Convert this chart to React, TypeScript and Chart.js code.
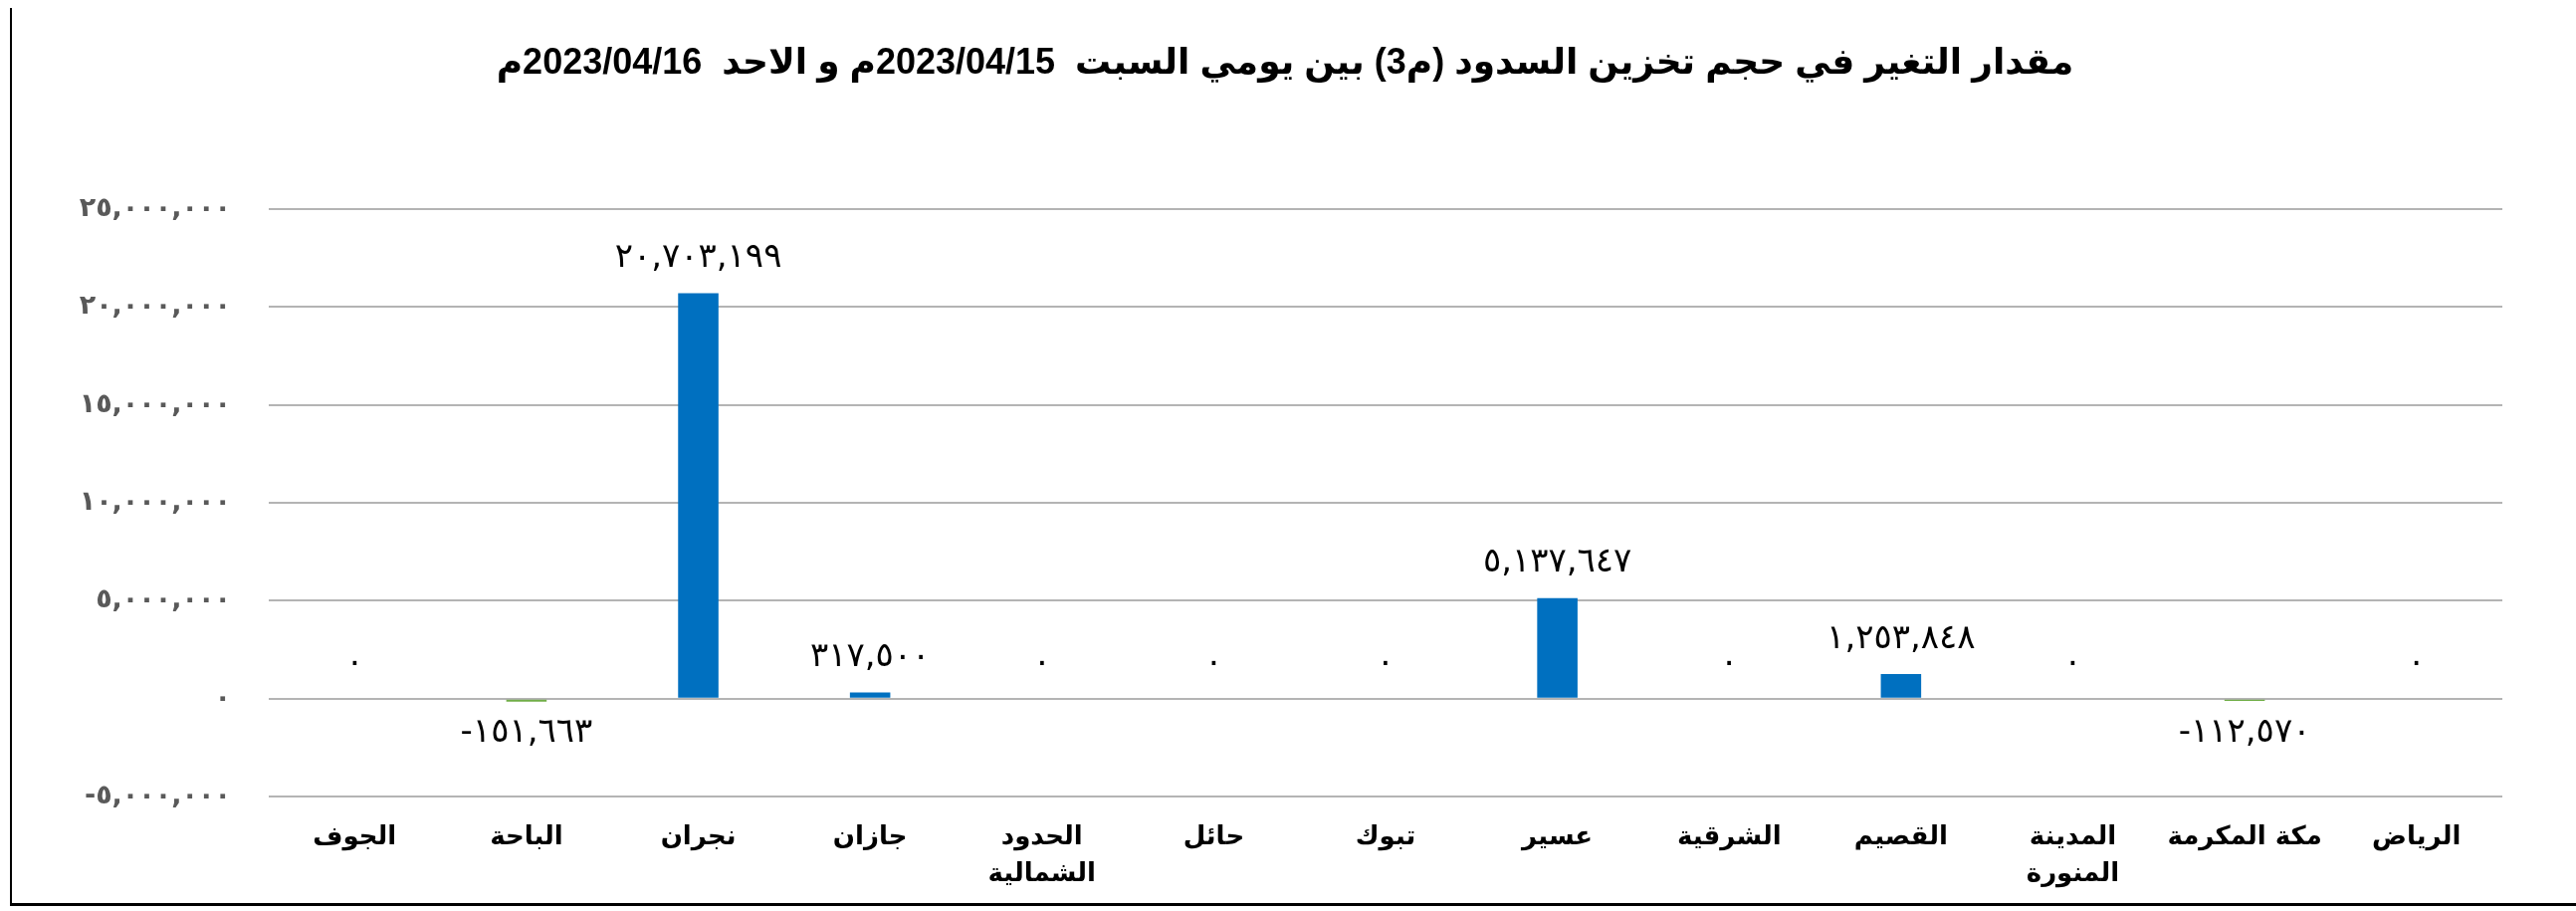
import React, { useEffect, useRef } from 'react';
import { Chart, registerables } from 'chart.js';

Chart.register(...registerables);

// ---- Data (categories listed in Arabic reading order; axis is reversed so الرياض is on the right)
const categories: (string | string[])[] = [
  'الرياض',
  'مكة المكرمة',
  ['المدينة', 'المنورة'],
  'القصيم',
  'الشرقية',
  'عسير',
  'تبوك',
  'حائل',
  ['الحدود', 'الشمالية'],
  'جازان',
  'نجران',
  'الباحة',
  'الجوف',
];

const changeValues: number[] = [
  0, -112570, 0, 1253848, 0, 5137647, 0, 0, 0, 317500, 20703199, -151663, 0,
];

const yTickValues: number[] = [-5000000, 0, 5000000, 10000000, 15000000, 20000000, 25000000];

const titleText =
  'مقدار التغير في حجم تخزين السدود (م3) بين يومي السبت  2023/04/15م و الاحد  2023/04/16م';

const positiveColor = '#0070C0';
const negativeColor = '#70AD47';

const AR_DIGITS = ['٠', '١', '٢', '٣', '٤', '٥', '٦', '٧', '٨', '٩'];
function toArabicDigits(v: number): string {
  return v
    .toLocaleString('en-US')
    .replace(/[0-9]/g, (d) => AR_DIGITS[Number(d)]);
}

const dataLabelPlugin = {
  id: 'barValueLabels',
  afterDatasetsDraw(chart: any) {
    const ctx = chart.ctx;
    const meta = chart.getDatasetMeta(0);
    const data = chart.data.datasets[0].data as number[];
    ctx.save();
    ctx.font = '34px "DejaVu Sans", sans-serif';
    ctx.fillStyle = '#000000';
    ctx.textAlign = 'center';
    ctx.textBaseline = 'middle';
    meta.data.forEach((el: any, i: number) => {
      const v = data[i];
      const y = v < 0 ? el.y + 32 : el.y - 35;
      ctx.fillText(toArabicDigits(v), el.x, y);
    });
    ctx.restore();
  },
};

export default function App() {
  const canvasRef = useRef<HTMLCanvasElement | null>(null);

  useEffect(() => {
    if (!canvasRef.current) return;
    const chart = new Chart(canvasRef.current, {
      type: 'bar',
      data: {
        labels: categories,
        datasets: [
          {
            data: changeValues,
            backgroundColor: changeValues.map((v) => (v < 0 ? negativeColor : positiveColor)),
            borderWidth: 0,
            barPercentage: 0.235,
            categoryPercentage: 1,
          },
        ],
      },
      options: {
        responsive: false,
        animation: false,
        devicePixelRatio: 1,
        layout: { padding: { left: 0, right: 18, top: 0, bottom: 0 } },
        plugins: {
          legend: { display: false },
          tooltip: { enabled: false },
          title: {
            display: true,
            text: '\u202B' + titleText + '\u202C',
            color: '#000000',
            font: { family: '"Liberation Sans", "DejaVu Sans", Arial, sans-serif', size: 36, weight: 'bold' },
            padding: { top: 34, bottom: 124.8 },
          },
        },
        scales: {
          x: {
            reverse: true,
            grid: { display: false, drawTicks: false },
            border: { display: false },
            ticks: {
              color: '#000000',
              padding: 22,
              maxRotation: 0,
              autoSkip: false,
              font: { family: '"DejaVu Sans", sans-serif', size: 26, weight: 'bold', lineHeight: 1.45 },
            },
            afterFit(scale: any) {
              scale.height = 107;
            },
          },
          y: {
            position: 'left',
            min: yTickValues[0],
            max: yTickValues[yTickValues.length - 1],
            afterBuildTicks(scale: any) {
              scale.ticks = yTickValues.map((v) => ({ value: v }));
            },
            grid: { color: '#B4B4B4', lineWidth: 2, drawTicks: false },
            border: { display: false },
            ticks: {
              color: '#595959',
              padding: 38,
              font: { family: '"DejaVu Sans", sans-serif', size: 27, weight: 'bold' },
              callback: (v: any) => toArabicDigits(Number(v)),
            },
            afterFit(scale: any) {
              scale.width = 258;
            },
          },
          yRight: {
            position: 'right',
            display: true,
            grid: { display: false, drawTicks: false },
            border: { display: false },
            ticks: { display: false },
            afterFit(scale: any) {
              scale.width = 56;
            },
          },
        },
      },
      plugins: [dataLabelPlugin],
    });
    return () => chart.destroy();
  }, []);

  return (
    <div
      style={{
        position: 'fixed',
        left: 10,
        top: 8,
        width: 2576,
        height: 899,
        borderLeft: '2px solid #000',
        borderBottom: '3px solid #000',
        background: '#fff',
      }}
    >
      <canvas ref={canvasRef} width={2576} height={899} style={{ display: 'block', width: 2576, height: 899 }} />
    </div>
  );
}
